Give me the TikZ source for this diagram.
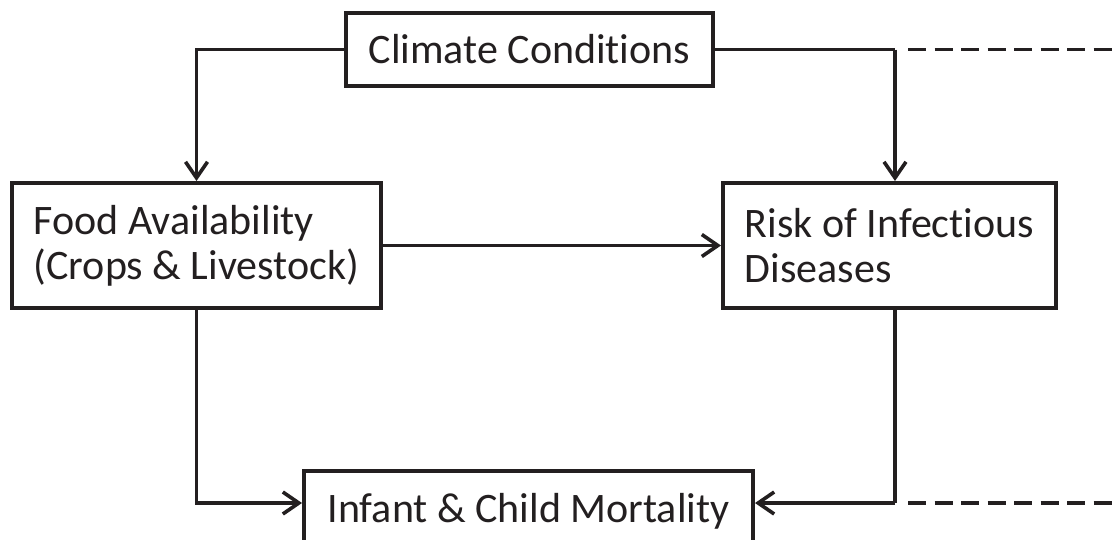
\documentclass[tikz,border=0pt]{standalone}
\usepackage{fontspec}
\setmainfont{Carlito}[Ligatures=NoCommon]
\usetikzlibrary{arrows.meta}
\definecolor{ink}{HTML}{231F20}
\begin{document}
\begin{tikzpicture}[x=1pt,y=-1pt,
  box/.style={draw=ink, line width=4pt, text=ink, inner sep=0pt,
    font=\fontsize{42}{45}\selectfont},
  conn/.style={draw=ink, line width=3.6pt},
  arr/.style={conn, -{Straight Barb[length=16pt,width=22pt,line width=3.6pt]}},
  dashline/.style={conn, dash pattern=on 18pt off 8.5pt}
]
\useasboundingbox (0,0) rectangle (1115,539);
\clip (0,0) rectangle (1115,539);

\node[box, minimum width=367pt, minimum height=73pt] (climate) at (529.5,49.5) {Climate Conditions};
\node[box, minimum width=369pt, minimum height=125pt, align=left] (food) at (196.5,245.5)
  {Food Availability\\(Crops \& Livestock)};
\node[box, minimum width=333pt, minimum height=125pt, align=left] (risk) at (889.5,245.5)
  {Risk of Infectious\\Diseases};
\node[box, minimum width=449pt, anchor=north, text height=51pt, text depth=60pt] (infant) at (528.5,469)
  {Infant \& Child Mortality};

\coordinate (jR) at (895,49.5);
\coordinate (jB) at (895,503);
\coordinate (dTop) at (908,49.5);
\coordinate (eTop) at (1115,49.5);
\coordinate (dBot) at (908,503);
\coordinate (eBot) at (1115,503);

\draw[arr] (climate.west) -| (food.north);
\draw[conn] (climate.east) -- (jR);
\draw[arr] (jR) -- (jR |- risk.north);
\draw[dashline] (dTop) -- (eTop);
\draw[arr] (food.east) -- (risk.west);
\draw[arr] (food.south) |- (jB -| infant.west);
\draw[conn] (jR |- risk.south) -- (jB);
\draw[arr] (jB) -- (jB -| infant.east);
\draw[dashline] (dBot) -- (eBot);
\end{tikzpicture}
\end{document}
